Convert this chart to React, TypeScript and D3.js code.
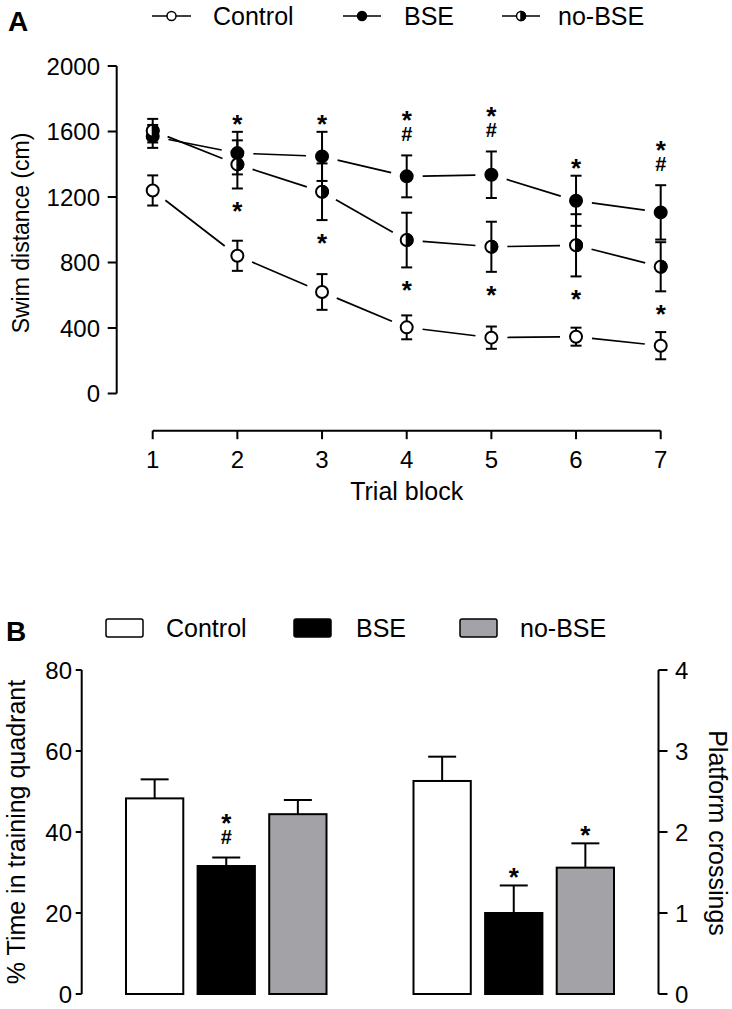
import React from 'react';
import * as d3 from 'd3';

// ---------- Panel A data ----------
const trials = [1, 2, 3, 4, 5, 6, 7];
const controlMean = [1240, 841, 620, 404, 341, 347, 292];
const controlSem = [92, 92, 109, 73, 68, 55, 83];
const bseMean = [1570, 1468, 1448, 1326, 1336, 1177, 1106];
const bseSem = [70, 130, 150, 128, 142, 153, 166];
const noBseMean = [1605, 1399, 1232, 937, 896, 905, 774];
const noBseSem = [72, 147, 173, 167, 153, 190, 150];
const swimTicks = [0, 400, 800, 1200, 1600, 2000];
const marksAboveBse = ['', '*', '*', '*#', '*#', '*', '*#'];
const marksBelowNoBse = ['', '*', '*', '*', '*', '*', '*'];

// ---------- Panel B data ----------
const groups = ['Control', 'BSE', 'no-BSE'];
const measures = ['quadrant', 'crossings'];
const quadrantMean = [48.3, 31.6, 44.4];
const quadrantSem = [4.7, 2.1, 3.5];
const crossingsMean = [2.63, 1.0, 1.56];
const crossingsSem = [0.3, 0.34, 0.3];
const quadrantTicks = [0, 20, 40, 60, 80];
const crossingsTicks = [0, 1, 2, 3, 4];
const quadrantMarks = ['', '*#', ''];
const crossingsMarks = ['', '*', '*'];

const FONT = '"Liberation Sans", Arial, Helvetica, sans-serif';
const GRAY = '#a3a2a7';

// stacked significance marks above an anchor y (bottom-most glyph nearest the anchor)
function marksUp(x: number, yTop: number, s: string, key: string) {
  const chars = s.split('').reverse();
  const out: JSX.Element[] = [];
  let c = yTop;
  chars.forEach((ch, i) => {
    c -= i === 0 ? (ch === '#' ? 21 : 14) : 20;
    out.push(glyph(x, c, ch, key + i));
  });
  return out;
}
function marksDown(x: number, yBot: number, s: string, key: string) {
  const out: JSX.Element[] = [];
  let c = yBot;
  s.split('').forEach((ch, i) => {
    c += i === 0 ? 17 : 20;
    out.push(glyph(x, c, ch, key + i));
  });
  return out;
}
function glyph(x: number, cy: number, ch: string, key: string) {
  if (ch === '*') {
    return (
      <text key={key} x={x} y={cy + 15} textAnchor="middle" fontSize={26} fontWeight="bold" fontFamily={FONT}>
        *
      </text>
    );
  }
  return (
    <text key={key} x={x} y={cy + 7} textAnchor="middle" fontSize={20} fontWeight="bold" fontFamily={FONT}>
      {ch}
    </text>
  );
}

function Marker({ cx, cy, r, kind, sw }: { cx: number; cy: number; r: number; kind: string; sw: number }) {
  if (kind === 'half') {
    return (
      <g>
        <circle cx={cx} cy={cy} r={r} fill="#fff" stroke="#000" strokeWidth={sw} />
        <path d={`M${cx},${cy - r} A${r},${r} 0 0 1 ${cx},${cy + r} Z`} fill="#000" stroke="#000" strokeWidth={sw} />
      </g>
    );
  }
  return <circle cx={cx} cy={cy} r={r} fill={kind === 'filled' ? '#000' : '#fff'} stroke="#000" strokeWidth={sw} />;
}

export default function App() {
  // ---------- scales panel A ----------
  const xA = d3.scaleLinear().domain([1, 7]).range([152.7, 660.7]);
  const yA = d3.scaleLinear().domain([0, 2000]).range([393.5, 66]);
  const axisXA = 116.7;
  const xAxisY = 430.7;

  const series = [
    { name: 'Control', mean: controlMean, sem: controlSem, kind: 'open' },
    { name: 'BSE', mean: bseMean, sem: bseSem, kind: 'filled' },
    { name: 'no-BSE', mean: noBseMean, sem: noBseSem, kind: 'half' },
  ];

  const gap = 16;
  const segs = (mean: number[]) =>
    trials.slice(0, -1).map((t, i) => {
      const x1 = xA(t), y1 = yA(mean[i]);
      const x2 = xA(trials[i + 1]), y2 = yA(mean[i + 1]);
      const dx = x2 - x1, dy = y2 - y1;
      const L = Math.hypot(dx, dy);
      const ux = dx / L, uy = dy / L;
      return [x1 + ux * gap, y1 + uy * gap, x2 - ux * gap, y2 - uy * gap];
    });

  // ---------- scales panel B ----------
  const yQ = d3.scaleLinear().domain([0, 80]).range([994, 670]);
  const yC = d3.scaleLinear().domain([0, 4]).range([994, 670]);
  const xGroup = d3.scaleBand().domain(measures).range([126, 614]).paddingInner(0.3026).paddingOuter(0);
  const xBar = d3.scaleBand().domain(groups).range([0, xGroup.bandwidth()]).paddingInner(0.2).paddingOuter(0);
  const fills = ['#fff', '#000', GRAY];
  const leftAxisX = 81.7;
  const rightAxisX = 658.5;

  const barSets = [
    { m: 'quadrant', mean: quadrantMean, sem: quadrantSem, y: yQ, marks: quadrantMarks },
    { m: 'crossings', mean: crossingsMean, sem: crossingsSem, y: yC, marks: crossingsMarks },
  ];

  return (
    <svg width={732} height={1009} style={{ position: 'absolute', left: 0, top: 0, background: '#fff' }} fontFamily={FONT}>
      <rect x={0} y={0} width={732} height={1009} fill="#fff" />
      {/* ================= Panel A ================= */}
      <text x={8} y={31} fontSize={28} fontWeight="bold">A</text>
      {/* legend A */}
      {[
        { x0: 152, x1: 191, kind: 'open', label: 'Control', tx: 213 },
        { x0: 343, x1: 381, kind: 'filled', label: 'BSE', tx: 404 },
        { x0: 502, x1: 540, kind: 'half', label: 'no-BSE', tx: 558 },
      ].map((l) => (
        <g key={l.label}>
          <line x1={l.x0} x2={l.x1} y1={16} y2={16} stroke="#000" strokeWidth={1.5} />
          <Marker cx={(l.x0 + l.x1) / 2} cy={16} r={4.5} kind={l.kind} sw={1.5} />
          <text x={l.tx} y={25} fontSize={25}>{l.label}</text>
        </g>
      ))}
      {/* y axis A */}
      <line x1={axisXA} x2={axisXA} y1={yA(2000)} y2={yA(0)} stroke="#000" strokeWidth={2} />
      {swimTicks.map((t) => (
        <g key={t}>
          <line x1={axisXA - 9} x2={axisXA} y1={yA(t)} y2={yA(t)} stroke="#000" strokeWidth={2} />
          <text x={100} y={yA(t) + 8.5} fontSize={24} textAnchor="end">{t}</text>
        </g>
      ))}
      <text transform={`translate(29,233) rotate(-90)`} fontSize={23} textAnchor="middle">Swim distance (cm)</text>
      {/* x axis A */}
      <line x1={xA(1)} x2={xA(7)} y1={xAxisY} y2={xAxisY} stroke="#000" strokeWidth={2} />
      {trials.map((t) => (
        <g key={t}>
          <line x1={xA(t)} x2={xA(t)} y1={xAxisY} y2={xAxisY + 8.5} stroke="#000" strokeWidth={2} />
          <text x={xA(t)} y={468} fontSize={24} textAnchor="middle">{t}</text>
        </g>
      ))}
      <text x={(xA(1) + xA(7)) / 2} y={500} fontSize={25} textAnchor="middle">Trial block</text>
      {/* connecting lines */}
      {series.map((s) =>
        segs(s.mean).map((sg, i) => (
          <line key={s.name + 'l' + i} x1={sg[0]} y1={sg[1]} x2={sg[2]} y2={sg[3]} stroke="#000" strokeWidth={1.7} />
        ))
      )}
      {/* error bars */}
      {series.map((s) =>
        trials.map((t, i) => {
          const x = xA(t);
          const yt = yA(s.mean[i] + s.sem[i]);
          const yb = yA(s.mean[i] - s.sem[i]);
          return (
            <g key={s.name + 'e' + t} stroke="#000" strokeWidth={2}>
              <line x1={x} x2={x} y1={yt} y2={yb} />
              <line x1={x - 5.5} x2={x + 5.5} y1={yt} y2={yt} />
              <line x1={x - 5.5} x2={x + 5.5} y1={yb} y2={yb} />
            </g>
          );
        })
      )}
      {/* markers */}
      {[series[1], series[2], series[0]].map((s) =>
        trials.map((t, i) => <Marker key={s.name + 'm' + t} cx={xA(t)} cy={yA(s.mean[i])} r={6} kind={s.kind} sw={2} />)
      )}
      {/* significance marks A */}
      {trials.map((t, i) => marksUp(xA(t), yA(bseMean[i] + bseSem[i]), marksAboveBse[i], 'ua' + t))}
      {trials.map((t, i) => marksDown(xA(t), yA(noBseMean[i] - noBseSem[i]), marksBelowNoBse[i], 'da' + t))}

      {/* ================= Panel B ================= */}
      <text x={6} y={641} fontSize={28} fontWeight="bold">B</text>
      {groups.map((g, i) => {
        const rx = [106, 294, 460][i];
        const tx = [166, 356, 520][i];
        return (
          <g key={'lg' + g}>
            <rect x={rx} y={619} width={37} height={18} rx={2} fill={fills[i]} stroke="#000" strokeWidth={1.5} />
            <text x={tx} y={637} fontSize={25}>{g}</text>
          </g>
        );
      })}
      {/* left axis */}
      <line x1={leftAxisX} x2={leftAxisX} y1={yQ(80)} y2={yQ(0)} stroke="#000" strokeWidth={2} />
      {quadrantTicks.map((t) => (
        <g key={'q' + t}>
          <line x1={leftAxisX - 6} x2={leftAxisX} y1={yQ(t)} y2={yQ(t)} stroke="#000" strokeWidth={2} />
          <text x={72} y={yQ(t) + 8.5} fontSize={24} textAnchor="end">{t}</text>
        </g>
      ))}
      <text transform={`translate(25,832) rotate(-90)`} fontSize={25} textAnchor="middle">% Time in training quadrant</text>
      {/* right axis */}
      <line x1={rightAxisX} x2={rightAxisX} y1={yC(4)} y2={yC(0)} stroke="#000" strokeWidth={2} />
      {crossingsTicks.map((t) => (
        <g key={'c' + t}>
          <line x1={rightAxisX} x2={rightAxisX + 9} y1={yC(t)} y2={yC(t)} stroke="#000" strokeWidth={2} />
          <text x={675} y={yC(t) + 8.5} fontSize={24} textAnchor="start">{t}</text>
        </g>
      ))}
      <text transform={`translate(709,833) rotate(90)`} fontSize={25} textAnchor="middle">Platform crossings</text>
      {/* bars */}
      {barSets.map((bs) =>
        groups.map((g, i) => {
          const x = (xGroup(bs.m) as number) + (xBar(g) as number);
          const w = xBar.bandwidth();
          const cx = x + w / 2;
          const yTop = bs.y(bs.mean[i]);
          const yErr = bs.y(bs.mean[i] + bs.sem[i]);
          return (
            <g key={bs.m + g}>
              <line x1={cx} x2={cx} y1={yTop} y2={yErr} stroke="#000" strokeWidth={2} />
              <line x1={cx - 14} x2={cx + 14} y1={yErr} y2={yErr} stroke="#000" strokeWidth={2} />
              <rect x={x} y={yTop} width={w} height={bs.y(0) - yTop} fill={fills[i]} stroke="#000" strokeWidth={2} />
              {marksUp(cx, yErr, bs.marks[i], bs.m + g + 'mk')}
            </g>
          );
        })
      )}
    </svg>
  );
}
